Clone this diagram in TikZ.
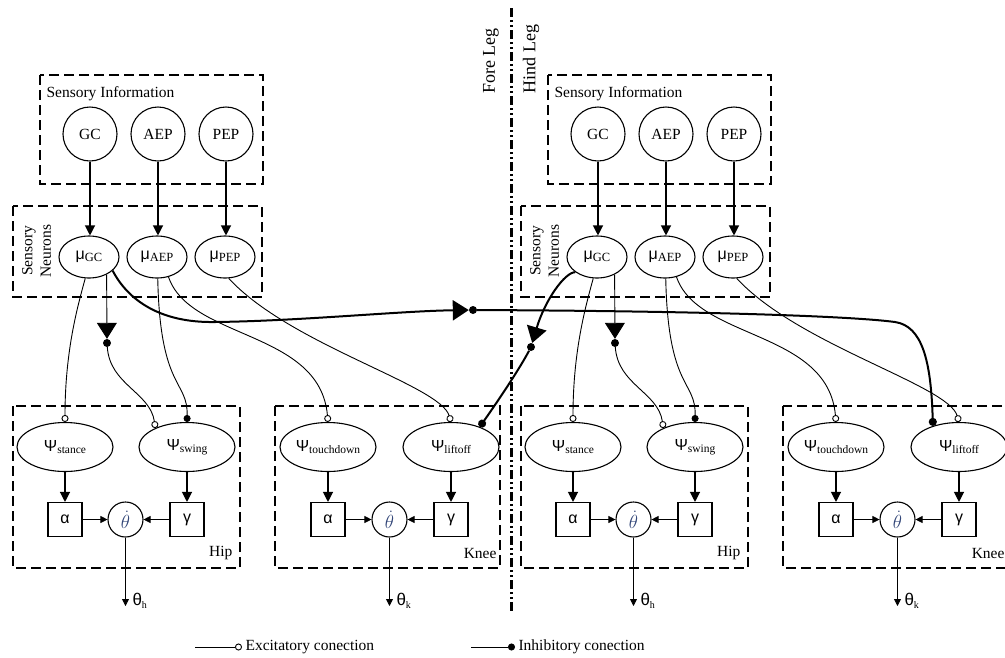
\documentclass[tikz,border=0pt]{standalone}
\usepackage{fix-cm}
\usepackage{fontspec}
\setmainfont{Liberation Serif}
\newfontfamily\greekfont{Liberation Sans}
\usetikzlibrary{shapes.geometric,arrows.meta}
\definecolor{thetacol}{RGB}{50,70,120}
\newcommand{\psilbl}[1]{{\greekfont\fontsize{16}{16}\selectfont Ψ}\raisebox{-2.5pt}{\fontsize{11.5}{11.5}\selectfont #1}}
\newcommand{\mulbl}[1]{{\greekfont\fontsize{16}{16}\selectfont μ}\raisebox{-1.5pt}{\fontsize{12.5}{12.5}\selectfont #1}}
\newcommand{\outlbl}[1]{{\greekfont\fontsize{17}{17}\selectfont θ}\raisebox{-2.5pt}{\fontsize{10}{10}\selectfont #1}}
\begin{document}
\begin{tikzpicture}[x=1pt, y=1pt, font=\fontsize{15.5}{18.5}\selectfont,
    grp/.style={draw, line width=2.5pt, dash pattern=on 10pt off 5pt},
    legsep/.style={line width=3pt, dash pattern=on 9pt off 3pt on 2pt off 3pt on 2pt off 3pt},
    sens/.style={circle, draw, line width=1.1pt, minimum size=54pt, inner sep=0pt},
    sneu/.style={ellipse, draw, line width=1.1pt, minimum width=60pt, minimum height=42pt, inner sep=0pt},
    psi/.style={ellipse, draw, line width=1.1pt, minimum width=96pt, minimum height=49pt, inner sep=0pt},
    gain/.style={rectangle, draw, line width=1.1pt, minimum size=34pt, inner sep=0pt, font=\greekfont\fontsize{16}{16}\selectfont},
    vel/.style={circle, draw, line width=1.1pt, minimum size=35pt, inner sep=0pt, font=\fontsize{19}{19}\selectfont},
    syn/.style={circle, fill, inner sep=0pt, minimum size=8pt},
    feed/.style={line width=1.2pt, -{Triangle[length=10pt,width=10pt]}},
    sumarr/.style={line width=0.8pt, -{Triangle[length=7pt,width=7pt]}},
    exc/.style={line width=0.9pt, -{Circle[open,length=7pt,width=7pt]}},
    inh/.style={line width=0.9pt, -{Circle[length=7pt,width=7pt]}},
    crossinh/.style={line width=2pt, -{Circle[length=8pt,width=8pt]}},
    bigtri/.style={-{Triangle[length=16pt,width=20pt]}}]
    \useasboundingbox (0,0) rectangle (1005,-657);

    % Fore leg and hind leg
    \foreach \dx/\lg in {0/F,508/H}{
    \begin{scope}[xshift=\dx pt]
        % Sensory information
        \draw[grp] (40,-75) rectangle (263,-184);
        \node[anchor=west] (silbl\lg) at (43,-93.5) {Sensory Information};
        \node[sens] (gc\lg) at (90,-134) {GC};
        \node[sens] (aep\lg) at (158,-134) {AEP};
        \node[sens] (pep\lg) at (226,-134) {PEP};

        % Sensory neurons
        \draw[grp] (13,-206) rectangle (262,-297);
        \node[rotate=90, align=center] (snlbl\lg) at (36.5,-251) {Sensory\\Neurons};
        \node[sneu] (mugc\lg) at (89,-257) {\mulbl{GC}};
        \node[sneu] (muaep\lg) at (157,-257) {\mulbl{AEP}};
        \node[sneu] (mupep\lg) at (225,-257) {\mulbl{PEP}};
        \draw[feed] (gc\lg) -- (gc\lg |- mugc\lg.north);
        \draw[feed] (aep\lg) -- (aep\lg |- muaep\lg.north);
        \draw[feed] (pep\lg) -- (pep\lg |- mupep\lg.north);

        % Hip
        \draw[grp] (13,-406) rectangle (240,-568);
        \node[anchor=east] (hiplbl\lg) at (236,-553.5) {Hip};
        \node[psi] (psst\lg) at (65,-447) {\psilbl{stance}};
        \node[psi] (psw\lg) at (187,-447) {\psilbl{swing}};
        \node[gain] (alh\lg) at (65,-519.5) {α};
        \node[vel] (vh\lg) at (125.5,-519.5) {\color{thetacol}$\dot{\theta}$};
        \node[gain] (gah\lg) at (187,-519.5) {γ};
        \node[anchor=west] (outh\lg) at (129,-601) {\outlbl{h}};
        \coordinate (endh\lg) at (125.5,-606);
        \draw[feed] (psst\lg) -- (alh\lg);
        \draw[feed] (psw\lg) -- (gah\lg);
        \draw[sumarr] (alh\lg) -- (vh\lg);
        \draw[sumarr] (gah\lg) -- (vh\lg);
        \draw[sumarr] (vh\lg) -- (endh\lg);

        % Knee
        \draw[grp] (275,-406) rectangle (500,-568);
        \node[anchor=east] (kneelbl\lg) at (500,-553.5) {Knee};
        \node[psi] (ptd\lg) at (328,-447) {\psilbl{touchdown}};
        \node[psi] (plf\lg) at (451,-447) {\psilbl{liftoff}};
        \node[gain] (alk\lg) at (328,-519.5) {α};
        \node[vel] (vk\lg) at (389.5,-519.5) {\color{thetacol}$\dot{\theta}$};
        \node[gain] (gak\lg) at (451,-519.5) {γ};
        \node[anchor=west] (outk\lg) at (393,-601) {\outlbl{k}};
        \coordinate (endk\lg) at (389.5,-606);
        \draw[feed] (ptd\lg) -- (alk\lg);
        \draw[feed] (plf\lg) -- (gak\lg);
        \draw[sumarr] (alk\lg) -- (vk\lg);
        \draw[sumarr] (gak\lg) -- (vk\lg);
        \draw[sumarr] (vk\lg) -- (endk\lg);

        % Sensory neurons to CPG neurons
        \node[syn] (sb\lg) at (107,-343) {};
        \draw[exc] (mugc\lg.-100) .. controls (78,-305) and (65,-350) .. (psst\lg.north);
        \draw[line width=0.9pt, bigtri] (mugc\lg.-45) -- (sb\lg);
        \draw[exc] (sb\lg) .. controls (110,-385) and (150,-392) .. (psw\lg.149);
        \draw[inh] (muaep\lg.-88) .. controls (160,-390) and (188,-380) .. (psw\lg.north);
        \draw[exc] (muaep\lg.-60) .. controls (190,-340) and (320,-330) .. (ptd\lg.north);
        \draw[exc] (mupep\lg.-80) .. controls (290,-345) and (440,-385) .. (plf\lg.north);
    \end{scope}
    }

    % Coupling between legs
    \node[syn] (scF) at (473,-310) {};
    \node[syn] (scH) at (531,-347) {};
    \draw[line width=2pt, bigtri] (mugcF.-30) .. controls (128,-300) and (160,-323) .. (215,-322)
        .. controls (300,-321) and (400,-311) .. (scF);
    \draw[crossinh] (scF) .. controls (700,-311) and (850,-316) .. (895,-322)
        .. controls (922,-326) and (931,-360) .. (plfH.141);
    \draw[line width=2pt, bigtri] (mugcH.215) .. controls (565,-272) and (545,-300) .. (scH);
    \draw[crossinh] (scH) .. controls (520,-368) and (500,-398) .. (plfF.35);

    % Fore / hind separation
    \draw[legsep] (511,-8) -- (511,-612);
    \node[rotate=90, font=\fontsize{18}{18}\selectfont] (forelbl) at (491,-61) {Fore Leg};
    \node[rotate=90, font=\fontsize{18}{18}\selectfont] (hindlbl) at (531,-59) {Hind Leg};

    % Legend
    \coordinate (excfrom) at (195,-647);
    \node[anchor=west] (exclbl) at (242,-647) {Excitatory conection};
    \draw[exc] (excfrom) -- (exclbl);
    \coordinate (inhfrom) at (471,-647);
    \node[anchor=west] (inhlbl) at (515,-647) {Inhibitory conection};
    \draw[inh] (inhfrom) -- (inhlbl);
\end{tikzpicture}
\end{document}
